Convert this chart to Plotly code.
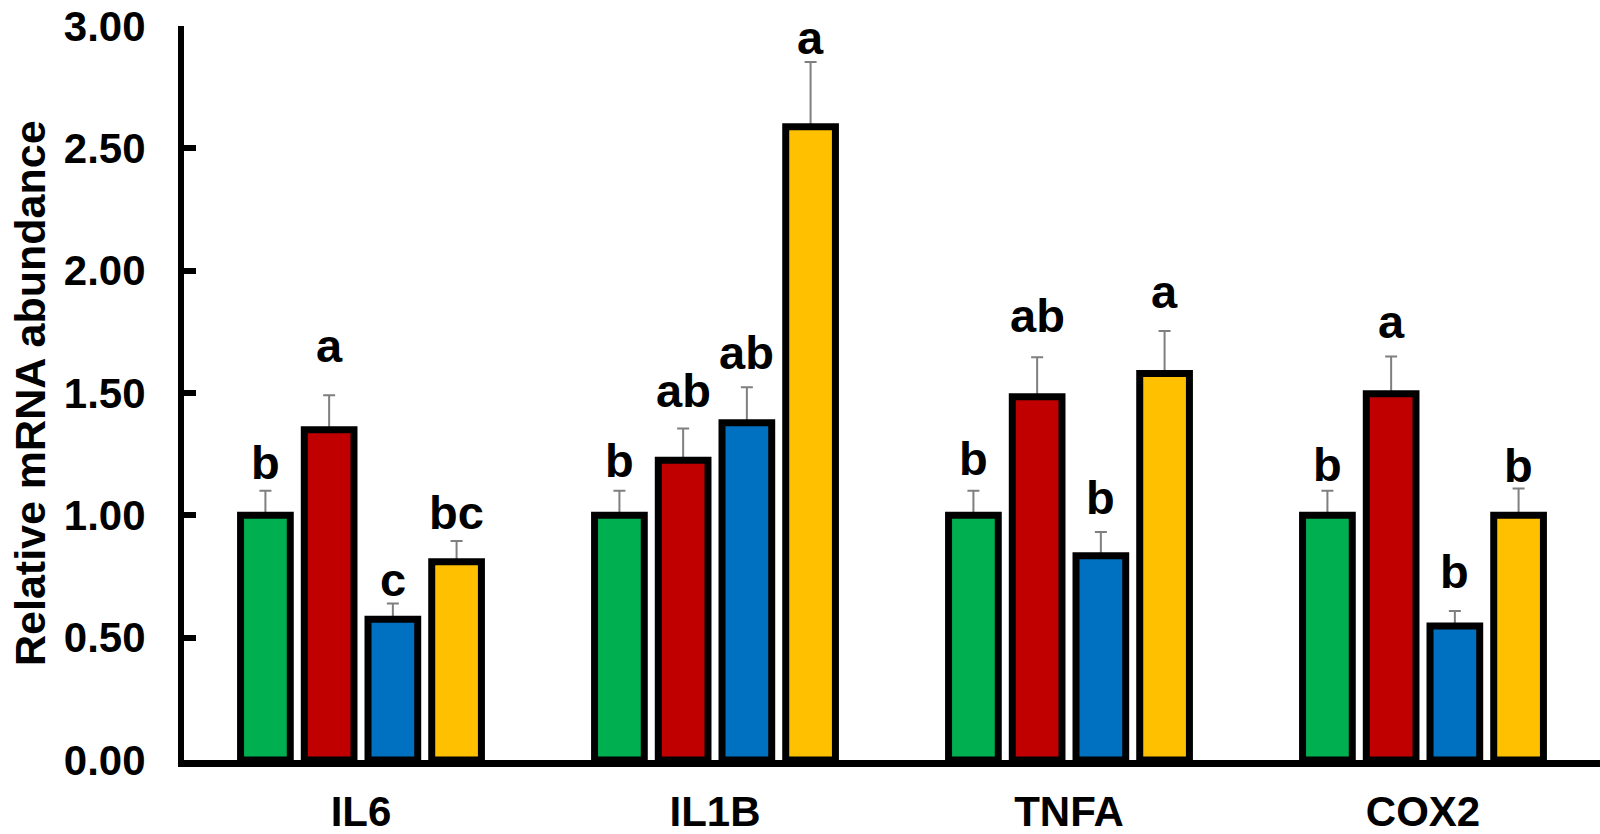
import plotly.graph_objects as go

categories = ["IL6", "IL1B", "TNFA", "COX2"]
series_names = ["Group 1", "Group 2", "Group 3", "Group 4"]
colors = ["#00B050", "#C00000", "#0070C0", "#FFC000"]

# mean values per series (rows) for each gene (columns)
values = [
    [1.00, 1.00, 1.00, 1.00],
    [1.35, 1.225, 1.485, 1.497],
    [0.575, 1.378, 0.835, 0.548],
    [0.81, 2.588, 1.58, 1.00],
]
# upper error (SE)
errors = [
    [0.10, 0.10, 0.10, 0.10],
    [0.141, 0.13, 0.161, 0.152],
    [0.065, 0.145, 0.097, 0.061],
    [0.085, 0.265, 0.173, 0.11],
]
# significance letters and the height (baseline) of each letter
letters = [
    ["b", "b", "b", "b"],
    ["a", "ab", "ab", "a"],
    ["c", "ab", "b", "b"],
    ["bc", "a", "a", "b"],
]
letter_y = [
    [1.144, 1.152, 1.162, 1.137],
    [1.622, 1.439, 1.745, 1.719],
    [0.666, 1.592, 1.001, 0.699],
    [0.940, 2.881, 1.843, 1.133],
]

y_ticks = [0, 0.5, 1.0, 1.5, 2.0, 2.5, 3.0]

W, H = 1600, 834
ML, MR, MT, MB = 184, 0, 26, 74
BARGAP = 0.28
BARGROUPGAP = 0.22
FONT = "Liberation Sans, Arial, sans-serif"

fig = go.Figure()

# error bars first (drawn beneath the bars so the lower end is hidden)
for i in range(4):
    fig.add_trace(go.Bar(
        x=categories, y=values[i], offsetgroup=f"g{i}",
        marker=dict(color="rgba(0,0,0,0)", line=dict(width=0)),
        error_y=dict(type="data", symmetric=False, array=errors[i],
                     arrayminus=[0] * 4, color="#7F7F7F", thickness=2, width=6),
        showlegend=False, hoverinfo="skip",
    ))

for i in range(4):
    fig.add_trace(go.Bar(
        x=categories, y=values[i], name=series_names[i], offsetgroup=f"g{i}",
        marker=dict(color=colors[i], line=dict(color="black", width=7)),
        showlegend=False,
    ))

plot_w = W - ML - MR
slot_px = plot_w / len(categories) * (1 - BARGAP) / 4
annotations = []
for i in range(4):
    for j, cat in enumerate(categories):
        annotations.append(dict(
            x=cat, y=letter_y[i][j], xref="x", yref="y",
            text=letters[i][j], showarrow=False,
            xshift=(i - 1.5) * slot_px, yanchor="bottom", yshift=-11,
            font=dict(family=FONT, size=47, color="black", weight="bold"),
        ))

annotations.append(dict(
    x=(30 - ML) / plot_w, y=(H - MB - 393) / (H - MT - MB), xref="paper", yref="paper",
    text="Relative mRNA abundance", textangle=-90, showarrow=False,
    xanchor="center", yanchor="middle",
    font=dict(family=FONT, size=43, color="black", weight="bold"),
))

fig.update_layout(
    width=W, height=H,
    margin=dict(l=ML, r=MR, t=MT, b=MB, autoexpand=False),
    barmode="group", bargap=BARGAP, bargroupgap=BARGROUPGAP,
    plot_bgcolor="white", paper_bgcolor="white",
    font=dict(family=FONT, size=42, color="black", weight="bold"),
    annotations=annotations,
    showlegend=False,
)
fig.update_xaxes(
    showline=True, linecolor="black", linewidth=7, ticks="",
    showgrid=False, zeroline=False, ticklabelstandoff=9, automargin=False,
    tickfont=dict(family=FONT, size=42, color="black", weight="bold"),
)
fig.update_yaxes(
    range=[0, 3], tickvals=y_ticks, tickformat=".2f",
    showline=True, linecolor="black", linewidth=6,
    ticks="inside", ticklen=12, tickwidth=6, tickcolor="black",
    showgrid=False, zeroline=False, ticklabelstandoff=24, automargin=False,
    tickfont=dict(family=FONT, size=42, color="black", weight="bold"),
)

fig.write_html(
    "out.html",
    config={"displayModeBar": False},
    post_script="document.body.style.margin='0';document.body.style.overflow='hidden';",
)
